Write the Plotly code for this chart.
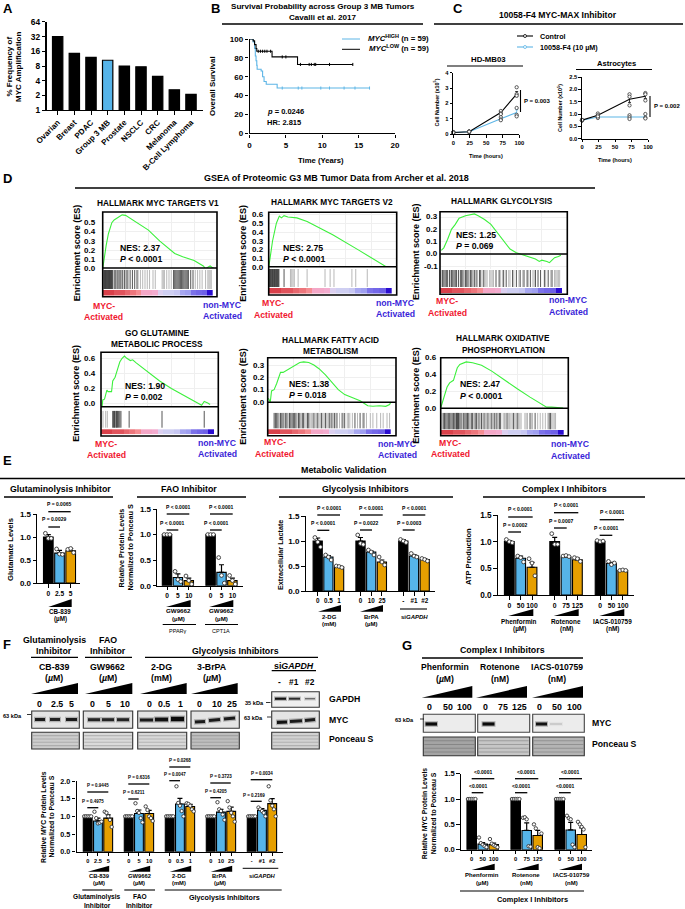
import plotly.graph_objects as go

W, H = 685, 909
FONT = "Liberation Sans"
BLUE, ORANGE, KM_BLUE = "#56B4E9", "#E69F00", "#5DB5E6"

# ---------- A
amp_categories = ["Ovarian", "Breast", "PDAC", "Group 3 MB", "Prostate", "NSCLC", "CRC", "Melanoma", "B-Cell Lymphoma"]
amp_values = [32, 14.5, 12, 10.5, 8, 7.7, 4.9, 2.6, 2.1]
amp_ticks = [1, 2, 4, 8, 16, 32, 64]

# ---------- B
km_high_t = [0, 0.5, 0.7, 0.8, 0.9, 1.0, 1.05, 1.6, 1.8, 2.0, 2.3, 3.8, 16.5]
km_high_s = [100, 97, 90, 82, 77, 72, 68, 66, 60, 55, 52, 48, 48]
km_low_t = [0, 0.5, 0.7, 0.9, 1.0, 3.1, 6.6, 14.2]
km_low_s = [100, 98, 94, 90, 87, 81, 73, 73]
km_high_cens_t = [4.5, 6.7, 7.2, 9.8, 11, 13, 14.5, 16.5]
km_high_cens_s = [48, 48, 48, 48, 48, 48, 48, 48]
km_low_cens_t = [1.2, 1.5, 1.8, 2.1, 2.4, 2.9, 4.5, 5.0, 7.0, 8.2, 8.5, 8.9, 9.1, 11, 14.2]
km_low_cens_s = [87, 87, 87, 87, 87, 87, 81, 81, 73, 73, 73, 73, 73, 73, 73]

# ---------- C
time_h = [0, 24, 72, 96]
hd_control = [0.1, 0.15, 1.4, 2.6]
hd_control_err = [0.02, 0.03, 0.07, 0.17]
hd_drug = [0.1, 0.15, 1.0, 1.4]
hd_drug_err = [0.02, 0.03, 0.07, 0.18]
hd_control_reps = [[0.1, 0.12, 0.08], [0.16, 0.13, 0.15], [1.5, 1.35, 1.3], [3.05, 2.6, 2.5]]
hd_drug_reps = [[0.1, 0.12, 0.08], [0.16, 0.13, 0.15], [1.1, 0.95, 0.9], [1.7, 1.25, 1.15]]
as_control = [0.75, 0.95, 1.6, 1.72]
as_control_err = [0.01, 0.04, 0.13, 0.09]
as_drug = [0.75, 0.88, 0.88, 0.88]
as_drug_err = [0.01, 0.03, 0.04, 0.04]
as_control_reps = [[0.75, 0.74, 0.76], [1.02, 0.95, 0.9], [1.8, 1.7, 1.35], [1.85, 1.8, 1.55]]
as_drug_reps = [[0.75, 0.74, 0.76], [0.93, 0.88, 0.84], [0.95, 0.87, 0.8], [1.0, 0.85, 0.82]]

# ---------- D
band_scores = [1.0, 1.0, 0.9, 0.9, 0.8, 0.72, 0.6, 0.3, 0.3, 0.25, -0.1, -0.2, -0.2, -0.25, -0.45, -0.5, -0.7, -0.75, -0.78, -1.0]

v1_rank = [0, 1, 3, 5, 8, 10, 15, 17, 20, 30, 35, 40, 50, 60, 63, 70, 80, 88, 90, 92, 94, 96, 98]
v1_es = [0, 0.1, 0.25, 0.38, 0.5, 0.53, 0.57, 0.585, 0.58, 0.5, 0.46, 0.42, 0.3, 0.19, 0.165, 0.13, 0.09, 0.03, 0.0, 0.015, 0.03, 0.01, 0]
v1_dark = [1, 1.5, 2, 2.5, 3, 3.5, 4, 4.5, 5, 5.5, 6, 6.5, 7, 7.5, 8, 8.5, 10, 11, 12.5, 13.5, 15, 16, 17.5, 19, 20.5, 22, 24, 26, 28, 30,
           62, 63, 64, 65, 66, 67, 68, 69, 70, 71, 72, 73, 74, 75, 77, 79]
v1_light = [31, 33, 35, 37, 39, 41, 44, 46, 52, 53, 54, 56, 58, 60, 81, 83, 85, 87, 90, 92, 93, 94, 95]

v2_rank = [0, 1, 3, 6, 8.3, 10, 12, 15, 22, 30, 50, 70, 85, 92, 93]
v2_es = [0, 0.1, 0.3, 0.5, 0.58, 0.56, 0.585, 0.57, 0.56, 0.52, 0.37, 0.2, 0.07, 0.01, 0]
v2_dark = [0.5, 1, 1.5, 2, 2.5, 3, 3.5, 4, 4.5, 5, 5.5, 6, 6.5, 7, 7.5, 8, 12]
v2_light = [17, 18, 19, 20, 23, 30, 44, 48, 51, 65, 68, 77]

gly_rank = [1, 3, 6, 9, 12, 15, 20, 25, 27, 30, 35, 40, 45, 50, 55, 60, 63, 70, 75, 78, 80, 84, 86, 88, 90, 93, 95]
gly_es = [0.03, 0.05, 0.12, 0.2, 0.24, 0.29, 0.31, 0.325, 0.325, 0.31, 0.28, 0.24, 0.17, 0.1, 0.04, 0.01, 0, -0.02, -0.04, -0.06, -0.05, -0.06, -0.07, -0.05, -0.03, -0.02, -0.01]
gly_dark = [2, 3, 4, 5, 6, 7.5, 9, 10, 11, 12, 13, 14.5, 16, 17, 18, 20, 21, 22, 24, 25, 27, 29, 31, 32, 34, 44, 47, 50, 52, 57, 60, 63, 66, 69, 71, 75, 77, 79, 82, 85, 88]
gly_light = [1, 8, 19, 23, 26, 28, 35, 36, 37, 39, 40, 41, 42, 46, 49, 54, 55, 58, 62, 65, 68, 73, 74, 83, 87, 90, 91, 92, 93, 94]

glu_rank = [1, 1.5, 3, 5, 6, 9, 10, 12, 14, 15, 16, 18, 20, 22, 25, 27, 30, 50, 60, 85.8, 88, 91, 93]
glu_es = [-0.03, 0.05, 0.06, 0.18, 0.16, 0.16, 0.3, 0.35, 0.45, 0.5, 0.55, 0.6, 0.63, 0.6, 0.57, 0.58, 0.54, 0.3, 0.2, -0.02, 0.03, 0.01, -0.01]
glu_dark = [10, 10.6, 11.5, 12, 13, 13.5, 14, 15, 16, 17, 24, 52, 88]
glu_light = [1.7, 4, 5.4]

fat_rank = [0.5, 2, 3, 5, 7, 9, 10, 12, 15, 18, 20, 22, 25, 28, 32, 36, 40, 45, 50, 55, 60, 65, 72, 75, 78, 82, 87, 92, 95, 96]
fat_es = [0.03, 0, 0.09, 0.1, 0.15, 0.21, 0.24, 0.24, 0.26, 0.28, 0.29, 0.3, 0.32, 0.325, 0.32, 0.3, 0.27, 0.22, 0.16, 0.1, 0.06, 0.04, 0.01, -0.01, -0.03, -0.035, -0.03, -0.035, -0.02, 0]
fat_dark = [5, 6, 7, 8, 10, 11, 12, 14, 15, 17, 18, 19, 20, 21, 22, 24, 25, 27, 28, 31, 32, 36, 39, 42, 45, 48, 50, 52, 54, 58, 60, 68, 72, 75]
fat_light = [9, 13, 16, 23, 26, 29, 30, 33, 34, 35, 37, 38, 40, 41, 43, 44, 46, 47, 49, 51, 53, 56, 59, 62, 63, 64, 66, 70, 74, 77, 80, 82, 85, 88, 90, 93, 95]

ox_rank = [0, 1, 3, 5, 7, 10, 11, 13, 15, 18, 20, 25, 32, 40, 50, 60, 70, 80, 83, 87, 92, 96]
ox_es = [0, 0.05, 0.13, 0.25, 0.3, 0.33, 0.38, 0.48, 0.52, 0.54, 0.55, 0.54, 0.51, 0.44, 0.33, 0.23, 0.13, 0.03, 0.01, 0.01, 0, 0]
ox_dark = [2, 3, 4, 5, 6, 7, 8, 9, 10, 11, 12, 12.5, 13, 13.5, 14, 15, 16, 18, 19, 20, 21, 22, 24, 25, 27, 28, 30, 32, 34, 37, 40, 42, 44, 46, 47, 52, 57, 60, 70, 74, 85, 86]
ox_light = [1, 17, 23, 26, 29, 31, 33, 35, 36, 38, 39, 41, 43, 45, 49, 50, 51, 53, 54, 55, 56, 58, 59, 61, 62, 63, 66, 67, 68, 71, 72, 76, 78, 80, 82, 84, 87, 88, 89, 90]

# ---------- E
glut_means = [[1.0, 0.65, 0.70]]
glut_errs = [[0.05, 0.06, 0.05]]
glut_pts = [[[1.08, 0.97, 0.97], [0.74, 0.63, 0.62], [0.73, 0.75, 0.66]]]
glut_labels = ["0", "2.5", "5"]

fao_means = [[1.0, 0.16, 0.1], [1.0, 0.26, 0.1]]
fao_errs = [[0, 0.07, 0.05], [0, 0.15, 0.05]]
fao_pts = [[[1, 1, 1], [0.28, 0.12, 0.08], [0.19, 0.1, 0.03]], [[1, 1, 1], [0.55, 0.2, 0.05], [0.2, 0.1, 0.03]]]
fao_labels = ["0", "5", "10", "0", "5", "10"]

lact_means = [[1.0, 0.68, 0.48], [1.0, 0.78, 0.58], [1.0, 0.7, 0.63]]
lact_errs = [[0.06, 0.03, 0.02], [0.07, 0.02, 0.04], [0.03, 0.03, 0.02]]
lact_pts = [[[1.07, 0.98, 0.88], [0.72, 0.68, 0.62], [0.5, 0.49, 0.47]],
            [[1.12, 0.95, 0.93], [0.82, 0.78, 0.72], [0.68, 0.58, 0.52]],
            [[1.03, 1.0, 0.97], [0.75, 0.7, 0.68], [0.65, 0.63, 0.6]]]
lact_labels = ["0", "0.5", "1", "0", "10", "25", "-", "#1", "#2"]

atp_means = [[1.0, 0.69, 0.52], [1.0, 0.71, 0.66], [1.0, 0.59, 0.46]]
atp_errs = [[0.02, 0.04, 0.09], [0.08, 0.01, 0.03], [0.02, 0.02, 0.01]]
atp_pts = [[[1.04, 1.0, 0.98], [0.73, 0.7, 0.62], [0.68, 0.6, 0.36]],
           [[1.15, 0.95, 0.95], [0.73, 0.74, 0.72], [0.7, 0.68, 0.63]],
           [[1.02, 1.0, 1.01], [0.63, 0.57, 0.6], [0.46, 0.47, 0.46]]]
atp_labels = ["0", "50", "100", "0", "75", "125", "0", "50", "100"]

# ---------- F
fmyc_means = [[1, 0.87, 0.95], [1, 1.08, 1.08], [1, 1.35, 1.28], [1, 1.12, 1.14], [1, 1.17, 1.36]]
fmyc_errs = [[0, 0.08, 0.09], [0, 0.1, 0.09], [0, 0.16, 0.06], [0, 0.08, 0.12], [0, 0.05, 0.14]]
fmyc_pts = [[[1] * 5, [1.13, 0.95, 0.8, 0.82, 0.85], [1.13, 1.1, 1.0, 0.9, 0.7]],
            [[1] * 5, [1.37, 1.15, 1.1, 0.95, 0.83], [1.28, 1.18, 1.0, 0.95, 0.87]],
            [[1] * 5, [1.85, 1.38, 1.3, 1.15, 1.0], [1.37, 1.35, 1.3, 1.2, 1.14]],
            [[1] * 5, [1.4, 1.2, 1.15, 1.05, 0.9], [1.43, 1.25, 1.1, 1.0, 0.85]],
            [[1] * 5, [1.25, 1.2, 1.15, 1.1, 1.0], [1.85, 1.45, 1.3, 1.2, 1.0]]]
fmyc_labels = ["0", "2.5", "5", "0", "5", "10", "0", "0.5", "1", "0", "10", "25", "-", "#1", "#2"]

# ---------- G
gmyc_means = [[1, 0.11, 0.1], [1, 0.38, 0.28], [1, 0.39, 0.3]]
gmyc_errs = [[0, 0.03, 0.03], [0, 0.15, 0.1], [0, 0.15, 0.13]]
gmyc_pts = [[[1] * 5, [0.24, 0.13, 0.1, 0.07, 0.05], [0.21, 0.12, 0.09, 0.07, 0.05]],
            [[1] * 5, [0.63, 0.64, 0.6, 0.07, 0.06], [0.5, 0.42, 0.05, 0.03, 0.32]],
            [[1] * 5, [0.67, 0.62, 0.6, 0.1, 0.05], [0.55, 0.5, 0.45, 0.4, 0.05]]]
gmyc_labels = ["0", "50", "100", "0", "75", "125", "0", "50", "100"]

# ---------- helpers
fig = go.Figure()
layout = {}
annots, shapes = [], []
nax = 0


def X(x):
    return x / W


def Y(y):
    return 1 - y / H


def T(x, y, s, size=7, bold=True, anchor="center", color="black", angle=0):
    annots.append(dict(x=X(x), y=Y(y), xref="paper", yref="paper", text=s, showarrow=False, xanchor=anchor,
                       yanchor="middle", textangle=angle, borderpad=0,
                       font=dict(size=size, color=color, family=FONT, weight=700 if bold else 400)))


def L(x0, y0, x1, y1, w=1.2, color="black"):
    shapes.append(dict(type="line", xref="paper", yref="paper", x0=X(x0), y0=Y(y0), x1=X(x1), y1=Y(y1),
                       line=dict(color=color, width=w)))


def R(x0, y0, x1, y1, fill="rgba(0,0,0,0)", lw=1.2, lc="black"):
    shapes.append(dict(type="rect", xref="paper", yref="paper", x0=X(x0), y0=Y(y0), x1=X(x1), y1=Y(y1),
                       fillcolor=fill, line=dict(color=lc, width=lw)))


def TRI(x0, y0, x1, y1):
    path = f"M {X(x0)} {Y(y1)} L {X(x1)} {Y(y1)} L {X(x1)} {Y(y0)} Z"
    shapes.append(dict(type="path", xref="paper", yref="paper", path=path, fillcolor="black", line=dict(width=0)))


def BRK(text, cx, ty, x0, x1, ly, size=5.0):
    T(cx, ty, text, size=size)
    L(x0, ly, x1, ly, w=1.3)


def AX(x0, x1, ytop, ybot, xr, yr, xo=None, yo=None):
    global nax
    nax += 1
    k = "" if nax == 1 else str(nax)
    base = dict(showgrid=False, zeroline=False, showline=False, ticks="", showticklabels=False, fixedrange=True)
    xa = dict(base, domain=[X(x0), X(x1)], range=xr, anchor=f"y{k}")
    ya = dict(base, domain=[Y(ybot), Y(ytop)], range=yr, anchor=f"x{k}")
    xa.update(xo or {})
    ya.update(yo or {})
    layout[f"xaxis{k}"] = xa
    layout[f"yaxis{k}"] = ya
    return f"x{k}", f"y{k}"


def axstyle(size=7, lw=1.4, tl=3.5, tw=1.2):
    return dict(showline=True, linecolor="black", linewidth=lw, ticks="outside", ticklen=tl, tickwidth=tw,
                tickcolor="black", showticklabels=True,
                tickfont=dict(family=FONT, size=size, color="black", weight=700))


SWARM = {3: [-0.26, 0.0, 0.26], 5: [-0.34, -0.17, 0.0, 0.17, 0.34]}


def bar_panel(ax0, ax1, top, bot, ymax, yticks, first, unit, means, errs, pts, labels, tsize=7, xsize=6.5, msize=3.8):
    xo = axstyle(xsize)
    yo = axstyle(tsize)
    pos = [g * 4 + b for g in range(len(means)) for b in range(3)]
    xo.update(tickvals=pos, ticktext=labels, tickangle=0)
    yo.update(tickvals=yticks, tickformat=".1f")
    xa, ya = AX(ax0, ax1, top, bot, [(ax0 - first) / unit, (ax1 - first) / unit], [0, ymax], xo, yo)
    colors = ["black", BLUE, ORANGE]
    for b in range(3):
        xs = [g * 4 + b for g in range(len(means))]
        fig.add_trace(go.Bar(x=xs, y=[m[b] for m in means], width=0.86, xaxis=xa, yaxis=ya,
                             marker=dict(color=colors[b], line=dict(color="black", width=1.1)), cliponaxis=False,
                             error_y=dict(type="data", array=[e[b] for e in errs], symmetric=False, color="black",
                                          thickness=1.2, width=2.5), showlegend=False))
    px, py = [], []
    for g, grp in enumerate(pts):
        for b, vals in enumerate(grp):
            off = SWARM[len(vals)]
            for i, v in enumerate(vals):
                px.append(g * 4 + b + off[i])
                py.append(v)
    fig.add_trace(go.Scatter(x=px, y=py, mode="markers", xaxis=xa, yaxis=ya, cliponaxis=False, showlegend=False,
                             marker=dict(size=msize, color="white", line=dict(color="#333", width=0.9))))
    fig.update_layout(barmode="overlay")


def gsea(name, bx0, bx1, top, split, lowpx, bot, cal, ticks, rank, es, dark, light, by0, by1, ky0, ky1,
         title, tcx, tys, tsize, ylx, nes, pv, tx, ty1, ty2, red, blue, tickx):
    (p0, v0), (p1, v1) = cal
    scale = (v1 - v0) / (p1 - p0)
    yr = [v0 + (lowpx - p0) * scale, v0 + (top - p0) * scale]
    xo = dict(range=[0, 100], showgrid=True, gridcolor="#efefef", gridwidth=0.6, tickvals=[20, 40, 60, 80])
    yo = dict(showgrid=True, gridcolor="#efefef", gridwidth=0.6, tickvals=ticks, tickformat=".1f")
    xa, ya = AX(bx0, bx1, top, lowpx, [0, 100], yr, xo, yo)
    fig.add_trace(go.Scatter(x=rank, y=es, mode="lines", xaxis=xa, yaxis=ya, name=name, showlegend=False,
                             line=dict(color="#3CF03C", width=1.1)))
    for t in ticks:
        T(tickx, p0 + (t - v0) / scale, f"{t:.1f}", size=8, anchor="right")
    xb, yb = AX(bx0, bx1, by0, ky1, [0, 100], [0, 1])
    span = ky1 - by0
    f0 = (ky1 - by1) / span
    for hits, col in ((light, "#a6a6a6"), (dark, "#2b2b2b")):
        xs, ys = [], []
        for h in hits:
            xs += [h, h, None]
            ys += [f0, 1, None]
        fig.add_trace(go.Scatter(x=xs, y=ys, mode="lines", xaxis=xb, yaxis=yb, showlegend=False,
                                 line=dict(color=col, width=0.8)))
    kh = (ky1 - ky0) / span
    fig.add_trace(go.Heatmap(z=[band_scores], x0=2.4, dx=4.8, y0=kh / 2, dy=kh, xaxis=xb, yaxis=yb, zmin=-1, zmax=1,
                             showscale=False, colorscale=[[0, "#2a0cd0"], [0.1, "#6a5ce6"], [0.25, "#9f9ff0"],
                                                          [0.4, "#cfcff2"], [0.5, "#e8d0ee"], [0.6, "#f3b0d8"],
                                                          [0.8, "#f58d92"], [1, "#d9404a"]]))
    R(bx0, top, bx1, bot, lw=1.6)
    L(bx0, split, bx1, split, w=1.6)
    for s, y in zip(title, tys):
        T(tcx, y, s, size=tsize)
    T(ylx, (top + bot) / 2 - 1, "Enrichment score (ES)", size=9, angle=-90)
    T(tx, ty1, nes, size=8.7, anchor="left")
    T(tx, ty2, pv, size=8.7, anchor="left")
    RED, NAVY = "#F0182F", "#3A1FD8"
    T(red[0], red[1], "MYC-", size=8.7, color=RED)
    T(red[0], red[2], "Activated", size=8.7, color=RED)
    T(blue[0], blue[1], "non-MYC", size=8.7, color=NAVY)
    T(blue[0], blue[2], "Activated", size=8.7, color=NAVY)


def band(x0, x1, y0, y1, h, dark):
    L(x0 - 1, y0, x1 + 1, y1, w=h + 2.5, color=f"rgba(0,0,0,{0.25 * dark:.2f})")
    L(x0, y0, x1, y1, w=h, color=f"rgba(10,10,10,{dark:.2f})")


def ponceau(x0, y0, x1, y1, fill, stripe):
    R(x0, y0, x1, y1, fill=fill, lw=1.1, lc="#333")
    n = 4
    for i in range(1, n + 1):
        y = y0 + (y1 - y0) * i / (n + 1)
        L(x0 + 1, y, x1 - 1, y, w=1.1, color=stripe)


# ---------- Panel letters
for s, x, y in [("A", 2, 8.5), ("B", 210, 8.5), ("C", 452, 8.5), ("D", 2, 179), ("E", 2, 461), ("F", 2, 644), ("G", 401, 645)]:
    T(x, y, s, size=13, anchor="left")

# ---------- A
xo = axstyle(8)
xo.update(tickvals=list(range(9)), ticktext=amp_categories, tickangle=-45)
yo = axstyle(8.4, lw=1.5)
yo.update(type="log", tickvals=amp_ticks, ticktext=[str(t) for t in amp_ticks])
xa, ya = AX(47, 203, 22, 110, [-0.64, 8.72], [0, 1.806], xo, yo)
fig.add_trace(go.Bar(x=list(range(9)), y=amp_values, xaxis=xa, yaxis=ya, width=0.62, showlegend=False,
                     marker=dict(color=["black", "black", "black", BLUE] + ["black"] * 5, line=dict(color="black", width=1.2))))
T(9.5, 67, "% Frequency of", size=8, angle=-90)
T(19, 67, "MYC Amplification", size=8, angle=-90)

# ---------- B
T(322.5, 6.5, "Survival Probability across Group 3 MB Tumors", size=8.1)
T(322.5, 17, "Cavalli et al. 2017", size=8.1)
L(222, 24, 423, 24, w=1.4)
xo = axstyle(8)
xo.update(tickvals=[0, 5, 10, 15, 20])
yo = axstyle(8)
yo.update(tickvals=[0, 20, 40, 60, 80, 100])
xa, ya = AX(249.5, 395, 39, 133.3, [0, 20], [0, 100], xo, yo)
fig.add_trace(go.Scatter(x=km_high_t, y=km_high_s, mode="lines", line=dict(color=KM_BLUE, width=1.1, shape="hv"),
                         xaxis=xa, yaxis=ya, name="MYC HIGH", showlegend=False, cliponaxis=False))
fig.add_trace(go.Scatter(x=km_low_t, y=km_low_s, mode="lines", line=dict(color="black", width=1.1, shape="hv"),
                         xaxis=xa, yaxis=ya, name="MYC LOW", showlegend=False, cliponaxis=False))
for t, s, c in ((km_high_cens_t, km_high_cens_s, KM_BLUE), (km_low_cens_t, km_low_cens_s, "black")):
    fig.add_trace(go.Scatter(x=t, y=s, mode="markers", xaxis=xa, yaxis=ya, showlegend=False, cliponaxis=False,
                             marker=dict(symbol="line-ns", size=2.2, line=dict(color=c, width=1))))
T(213, 86, "Overall Survival", size=7.9, angle=-90)
T(321, 161, "Time (Years)", size=7.7)
T(266, 111, "<i>p</i> = 0.0246", size=7.5, anchor="left")
T(266, 122, "HR: 2.815", size=7.5, anchor="left")
L(342, 39, 360, 39, w=1, color=KM_BLUE)
L(342, 49.3, 360, 49.3, w=1, color="black")
T(367, 38, "<i>MYC</i><sup>HIGH</sup> (n = 59)", size=7.8, anchor="left")
T(368, 48.5, "<i>MYC</i><sup>LOW</sup> (n = 59)", size=7.8, anchor="left")

# ---------- C
T(558, 15, "10058-F4 MYC-MAX Inhibitor", size=8.6)
L(434, 24, 683, 24, w=1.4)
L(517, 36, 533, 36, w=1.1)
L(517, 47, 533, 47, w=1.1, color=KM_BLUE)
for y, c in ((36, "black"), (47, KM_BLUE)):
    shapes.append(dict(type="circle", xref="paper", yref="paper", x0=X(523.5), x1=X(526.5), y0=Y(y - 1.5), y1=Y(y + 1.5),
                       fillcolor="white", line=dict(color=c, width=0.8)))
T(539, 36, "Control", size=7.2, anchor="left")
T(539, 47, "10058-F4 (10 µM)", size=7.2, anchor="left")


def growth(ax0, ax1, top, bot, ymax, yt, fmt, ctrl, ce, cr, drug, de, dr):
    xo = axstyle(5.8, lw=1.1, tl=2.5, tw=0.9)
    xo.update(tickvals=[0, 25, 50, 75, 100])
    yo = axstyle(5.8, lw=1.1, tl=2.5, tw=0.9)
    yo.update(tickvals=yt, tickformat=fmt)
    xa, ya = AX(ax0, ax1, top, bot, [0, 100], [0, ymax], xo, yo)
    for name, m, e, c in (("10058-F4 (10 µM)", drug, de, KM_BLUE), ("Control", ctrl, ce, "black")):
        fig.add_trace(go.Scatter(x=time_h, y=m, mode="lines", name=name, xaxis=xa, yaxis=ya, showlegend=False, cliponaxis=False,
                                 line=dict(color=c, width=1.1),
                                 error_y=dict(type="data", array=e, color=c, thickness=0.8, width=1.5)))
    for reps, c in ((dr, KM_BLUE), (cr, "black")):
        xs = [t for t, r in zip(time_h, reps) for _ in r]
        ys = [v for r in reps for v in r]
        fig.add_trace(go.Scatter(x=xs, y=ys, mode="markers", xaxis=xa, yaxis=ya, showlegend=False, cliponaxis=False,
                                 marker=dict(size=3.3, color="white", line=dict(color="#333", width=0.8))))


growth(453.3, 519.3, 72.7, 134, 4, [0, 1, 2, 3, 4], "d", hd_control, hd_control_err, hd_control_reps, hd_drug, hd_drug_err, hd_drug_reps)
growth(582, 648, 77, 138.7, 2.5, [0, 0.5, 1, 1.5, 2, 2.5], ".1f", as_control, as_control_err, as_control_reps, as_drug, as_drug_err, as_drug_reps)
T(488, 59, "HD-MB03", size=7.8)
L(447, 66, 523, 66, w=1.2)
T(616, 63, "Astrocytes", size=7.6)
L(576, 69.5, 652, 69.5, w=1.2)
T(436.5, 103, "Cell Number (x10<sup>5</sup>)", size=5.4, angle=-90)
T(560, 108, "Cell Number (x10<sup>5</sup>)", size=5.4, angle=-90)
T(486, 156, "Time (hours)", size=5.6)
T(615, 160, "Time (hours)", size=5.6)
L(520.5, 90, 520.5, 112, w=1.1)
L(650, 96, 650, 117, w=1.1)
T(523, 101, "P = 0.003", size=6, anchor="left")
T(653, 105.5, "P = 0.002", size=6, anchor="left")

# ---------- D
T(336, 178, "GSEA of Proteomic G3 MB Tumor Data from Archer et al. 2018", size=9)
L(75, 188, 595, 188, w=1.4)
gsea("MYC targets V1", 102.7, 217, 212, 268, 268, 296.7, ((268.7, 0.0), (222.7, 0.5)), [0, 0.1, 0.2, 0.3, 0.4, 0.5], v1_rank, v1_es, v1_dark, v1_light,
     270, 289, 290, 295.5, ["HALLMARK MYC TARGETS V1"], 158, [203], 8.3, 77, "NES: 2.37", "<i>P</i> &lt; 0.0001", 119, 248, 259,
     (103.7, 305.7, 317), (222.7, 304.7, 316), 97)
gsea("MYC targets V2", 268.7, 396.7, 212.3, 266.7, 266.7, 295, ((267.7, 0.0), (214.3, 0.6)), [0, 0.1, 0.2, 0.3, 0.4, 0.5, 0.6], v2_rank, v2_es, v2_dark, v2_light,
     269, 287, 288, 293.5, ["HALLMARK MYC TARGETS V2"], 331.7, [202.3], 8.3, 243, "NES: 2.75", "<i>P</i> &lt; 0.0001", 282, 248, 259,
     (273.3, 303.3, 315), (395.7, 303, 314), 265)
gsea("Glycolysis", 440, 567.3, 211.7, 254, 269, 294.3, ((254, 0.0), (217, 0.3)), [-0.1, 0, 0.1, 0.2, 0.3], gly_rank, gly_es, gly_dark, gly_light,
     270, 287, 288, 293, ["HALLMARK GLYCOLYSIS"], 501.7, [200.7], 8.3, 416, "NES: 1.25", "<i>P</i> = 0.069", 455, 235, 246,
     (447.3, 301.3, 312.7), (568.7, 300.3, 311.7), 439)
gsea("Glutamine", 101, 218.3, 352.3, 406.7, 406.7, 436, ((403.7, 0.0), (358.3, 0.6)), [0, 0.2, 0.4, 0.6], glu_rank, glu_es, glu_dark, glu_light,
     410.7, 427.7, 429.3, 434.3, ["GO GLUTAMINE", "METABOLIC PROCESS"], 157, [333.3, 344.3], 8.3, 76.5, "NES: 1.90", "<i>P</i> = 0.002", 124, 385.7, 397,
     (106, 444, 455.3), (217.7, 442.7, 454), 97)
gsea("Fatty acid", 267.7, 396, 357.7, 402.3, 412, 435.7, ((402, 0.0), (365, 0.3)), [0, 0.1, 0.2, 0.3], fat_rank, fat_es, fat_dark, fat_light,
     412.7, 428.3, 429.3, 434, ["HALLMARK FATTY ACID", "METABOLISM"], 330, [340, 351], 8.3, 243, "NES: 1.38", "<i>P</i> = 0.018", 287.7, 384.3, 394.7,
     (274.7, 442.3, 453.7), (397.7, 444, 455.3), 266)
gsea("Oxphos", 440.7, 568.3, 357.7, 408.3, 408.3, 435.7, ((408, 0.0), (357.7, 0.6)), [0, 0.2, 0.4, 0.6], ox_rank, ox_es, ox_dark, ox_light,
     412.7, 429.3, 430, 434.7, ["HALLMARK OXIDATIVE", "PHOSPHORYLATION"], 503.3, [338.3, 349.7], 8.3, 416, "NES: 2.47", "<i>P</i> &lt; 0.0001", 459.3, 384.3, 396,
     (450.3, 442.7, 454.3), (570, 444.3, 455.7), 438)

# ---------- E
T(343, 470, "Metabolic Validation", size=8.9)
L(0, 478.5, 685, 478.5, w=1.4)
for s, cx, x0, x1 in [("Glutaminolysis Inhibitor", 60, 4, 113), ("FAO Inhibitor", 189, 137, 246),
                      ("Glycolysis Inhibitors", 366, 279, 453), ("Complex I Inhibitors", 564, 483, 645)]:
    T(cx, 489.5, s, size=8.8)
    L(x0, 497, x1, 497, w=1.3)

yt = [0, 0.5, 1.0, 1.5]
bar_panel(37.3, 80, 514, 583, 1.5, yt, 48.3, 11.2, glut_means, glut_errs, glut_pts, glut_labels, tsize=8, xsize=6.6)
T(10, 550, "Glutamate Levels", size=7.6, angle=-90)
BRK("P = 0.0029", 54, 519, 48.3, 60, 527)
BRK("P = 0.0065", 59, 504, 48.3, 70.7, 511.7)
TRI(48.3, 599, 71.7, 607)
T(60, 611, "CB-839", size=6.3)
T(60, 618.5, "(µM)", size=6.3)

bar_panel(157.3, 242.7, 509, 585.7, 1.5, yt, 167, 10.9, fao_means, fao_errs, fao_pts, fao_labels, tsize=8, xsize=6.6)
T(120.5, 548, "Relative Protein Levels", size=7.2, angle=-90)
T(129.5, 548, "Normalized to Ponceau S", size=7.2, angle=-90)
BRK("P &lt; 0.0001", 178, 506.7, 166.7, 189.3, 514)
BRK("P &lt; 0.0001", 172, 522.7, 166.7, 178.3, 530)
BRK("P &lt; 0.0001", 221, 506.7, 210, 232.7, 514)
BRK("P &lt; 0.0001", 216, 522.7, 210, 221.7, 530)
TRI(166, 600, 190.7, 607)
TRI(209.3, 600, 233.3, 607)
for cx in (178.5, 221.5):
    T(cx, 610, "GW9662", size=6.2)
    T(cx, 618, "(µM)", size=6.2)
L(162.7, 624.5, 196, 624.5, w=1.2)
L(205, 624.5, 238, 624.5, w=1.2)
T(178, 631, "PPARγ", size=5.5, bold=False)
T(221, 631, "CPT1A", size=5.5, bold=False)

bar_panel(305.7, 435, 516, 591, 1.5, yt, 317.7, 10.7, lact_means, lact_errs, lact_pts, lact_labels, tsize=8, xsize=6.3)
T(280, 555, "Extracellular Lactate", size=7.2, angle=-90)
BRK("P &lt; 0.0001", 328.7, 507.7, 317.3, 340, 515)
BRK("P &lt; 0.0001", 323, 523, 317.3, 329.3, 530.3)
BRK("P &lt; 0.0001", 371, 507.7, 360, 382.7, 515)
BRK("P = 0.0022", 366, 523, 360, 372, 530)
BRK("P &lt; 0.0001", 414, 507.7, 402.7, 425.3, 515)
BRK("P = 0.0003", 408.7, 523, 402.7, 414.7, 530)
TRI(318, 605, 341, 611.7)
TRI(360, 605, 383, 611.7)
L(400, 609, 427, 609, w=1.1)
for s, u, cx in (("2-DG", "(mM)", 329), ("BrPA", "(µM)", 371)):
    T(cx, 616.7, s, size=6)
    T(cx, 624, u, size=6)
T(414, 616.7, "si<i>GAPDH</i>", size=6)

bar_panel(498, 634, 515, 595, 1.5, yt, 509.3, 11.35, atp_means, atp_errs, atp_pts, atp_labels, tsize=8.2, xsize=6.8)
T(468, 557, "ATP Production", size=7.6, angle=-90)
BRK("P &lt; 0.0001", 520, 509, 508.3, 532.7, 517)
BRK("P = 0.0002", 515, 525, 508.3, 521, 532)
BRK("P &lt; 0.0001", 566, 505, 554, 578.3, 512.7)
BRK("P = 0.0007", 560.7, 521, 554, 566.7, 528)
BRK("P &lt; 0.0001", 611.7, 512.3, 599.7, 624, 519.7)
BRK("P &lt; 0.0001", 605.7, 527.7, 599.7, 612.3, 535.3)
for x0, s, u, cx in ((508.3, "Phenformin", "(µM)", 519), (553.7, "Rotenone", "(nM)", 566), (599.3, "IACS-010759", "(nM)", 612)):
    TRI(x0, 609, x0 + 25, 616)
    T(cx, 621.5, s, size=6.4)
    T(cx, 629, u, size=6.4)

# ---------- F
T(54, 640, "Glutaminolysis", size=8.8)
T(54, 651, "Inhibitor", size=8.8)
L(31, 657.3, 78, 657.3, w=1.3)
T(108, 640, "FAO", size=8.8)
T(108, 651, "Inhibitor", size=8.8)
L(85, 657.3, 132, 657.3, w=1.3)
T(235, 651, "Glycolysis Inhibitors", size=8.8)
L(145, 657.3, 318, 657.3, w=1.3)
for s, u, cx, x0, x1 in [("CB-839", "(<i>µ</i>M)", 54, 31, 78), ("GW9662", "(<i>µ</i>M)", 107.7, 85, 132.3),
                         ("2-DG", "(mM)", 161.7, 140, 186.7), ("3-BrPA", "(<i>µ</i>M)", 212, 191, 237.7)]:
    T(cx, 667, s, size=8.8)
    T(cx, 678, u, size=8.8)
    TRI(x0, 683, x1, 694)
T(294, 665.7, "si<i>GAPDH</i>", size=8.8)
L(271.7, 670.7, 316, 670.7, w=1.2)
for s, x in (("-", 279), ("#1", 294), ("#2", 310)):
    T(x, 681.7, s, size=8.4)
for s, x in [("0", 39), ("2.5", 56.7), ("5", 71), ("0", 92.7), ("5", 108.7), ("10", 125.3),
             ("0", 149), ("0.5", 164), ("1", 180), ("0", 200), ("10", 216.7), ("25", 232.3)]:
    T(x, 703.7, s, size=8.8)

f_blots = [(31.7, 79.3), (83.3, 132.7), (137.7, 186.7), (191, 239.3), (271.7, 319.3)]
f_ponceau_fill = ["#cdcdcd", "#dadada", "#d8d8d8", "#bebebe", "#d2d2d2"]
for (x0, x1), pf in zip(f_blots, f_ponceau_fill):
    R(x0, 711, x1, 728.3, fill="#e4e4e4", lw=1.1, lc="#333")
    ponceau(x0, 732.3, x1, 749, pf, "rgba(100,100,100,0.3)")
for (x0, x1, y0, y1, h, d) in [(35, 45, 719.5, 719.5, 3, 0.9), (50, 60, 719.5, 719.5, 3, 0.85), (66, 77, 719.5, 719.5, 3, 0.9),
                               (88, 100, 719.7, 719.7, 3, 0.85), (102, 114, 719.7, 719.7, 3, 0.85), (117, 129, 719.7, 719.7, 3, 0.85),
                               (140, 153, 720, 720, 3, 0.9), (155, 168, 719.5, 719.5, 3.8, 0.95), (171, 184, 719, 719, 4.5, 1.0),
                               (195, 205, 722, 721.5, 3, 0.9), (209, 220, 720.5, 719.5, 3, 0.9), (224, 235, 719, 718, 3, 0.9),
                               (277, 287, 722.3, 722, 3.2, 0.95), (290, 302, 721.5, 720.7, 3, 0.9), (305, 315, 720.5, 719.5, 3, 0.9)]:
    band(x0, x1, y0, y1, h, d)
R(271.7, 691.7, 319.3, 707.3, fill="#efefef", lw=1.1, lc="#333")
for x0, x1, h, d in [(275, 286, 2.2, 0.95), (289, 300, 2, 0.8), (305, 315, 1.4, 0.5)]:
    band(x0, x1, 698.7, 698.7, h, d)
T(327.7, 699, "GAPDH", size=8.7, anchor="left")
T(327.7, 719.7, "MYC", size=8.7, anchor="left")
T(327.7, 739, "Ponceau S", size=8.7, anchor="left")
T(265, 702.7, "35 kDa", size=5.6, anchor="right")
L(266, 702.5, 270.5, 702.5, w=0.8)
T(23, 715.7, "63 kDa", size=5.6, anchor="right")
L(27, 714.5, 31, 714.5, w=0.8)
T(264, 718.3, "63 kDa", size=5.6, anchor="right")
L(267, 717, 271, 717, w=0.8)

bar_panel(76.5, 282.7, 781, 851.7, 2.0, [0, 0.5, 1.0, 1.5, 2.0], 87.7, 10.25, fmyc_means, fmyc_errs, fmyc_pts, fmyc_labels, tsize=7.2, xsize=5.6, msize=3.4)
T(43.3, 816.7, "Relative MYC Protein Levels", size=6.8, angle=-90)
T(51.7, 816.7, "Normalized to Ponceau S", size=6.8, angle=-90)
BRK("P = 0.4975", 93.3, 801.7, 87.3, 98.3, 807.7, size=4.5)
BRK("P = 0.9445", 98.3, 785.3, 87.3, 108.3, 792, size=4.5)
BRK("P = 0.6211", 134.3, 792.3, 128.3, 138.7, 799, size=4.5)
BRK("P = 0.6316", 139, 777.3, 128.3, 149.3, 784, size=4.5)
BRK("P = 0.0047", 174.7, 774.7, 169.3, 180, 780.7, size=4.5)
BRK("P = 0.0268", 180, 760.7, 169.3, 190.3, 767, size=4.5)
BRK("P = 0.4205", 215.7, 791, 210.3, 221, 797.7, size=4.5)
BRK("P = 0.3723", 220.7, 776.7, 210.3, 230.7, 783, size=4.5)
BRK("P = 0.2169", 254.3, 795, 250.7, 261.7, 801.3, size=4.5)
BRK("P = 0.0034", 262, 773, 250.7, 272.3, 779.7, size=4.5)
for x0, s, u, cx in ((87.7, "CB-839", "(µM)", 99.3), (128.7, "GW9662", "(µM)", 139), (169.7, "2-DG", "(mM)", 179), (210.7, "BrPA", "(µM)", 219.7)):
    TRI(x0, 865.7, x0 + 21.5, 871.7)
    T(cx, 875.7, s, size=5.8)
    T(cx, 882.7, u, size=5.8)
L(242.7, 868.3, 278.3, 868.3, w=1)
T(262, 875.7, "si<i>GAPDH</i>", size=5.8)
L(82.3, 890, 112.3, 890, w=1.1)
L(124.3, 890, 155, 890, w=1.1)
L(164.7, 890, 281.7, 890, w=1.1)
T(97, 896.5, "Glutaminolysis", size=6.6)
T(97, 905, "Inhibitor", size=6.6)
T(139.7, 896.5, "FAO", size=6.6)
T(139.7, 905, "Inhibitor", size=6.6)
T(224, 897.5, "Glycolysis Inhibitors", size=7.2)

# ---------- G
T(502.7, 650, "Complex I Inhibitors", size=8.8)
L(422, 658, 583, 658, w=1.3)
for s, u, cx, x0, x1 in [("Phenformin", "(<i>µ</i>M)", 445.3, 421.7, 472.3), ("Rotenone", "(nM)", 500, 476, 527), ("IACS-010759", "(nM)", 557.3, 532, 583)]:
    T(cx, 667.3, s, size=8.6)
    T(cx, 679, u, size=8.6)
    TRI(x0, 686, x1, 697.7)
for s, x in [("0", 429.7), ("50", 447.7), ("100", 464.3), ("0", 485), ("75", 502.7), ("125", 519.3), ("0", 539.3), ("50", 557.3), ("100", 574)]:
    T(x, 707.3, s, size=8.8)
g_blots = [(423.3, 475.3), (477.7, 529.7), (532.7, 584.3)]
g_ponceau_fill = ["#a4a4a4", "#c6c6c6", "#b4b4b4"]
for (x0, x1), pf in zip(g_blots, g_ponceau_fill):
    R(x0, 714.3, x1, 732.3, fill="#ececec", lw=1.1, lc="#444")
    ponceau(x0, 737, x1, 755.7, pf, "rgba(80,80,80,0.35)")
for x0, x1, h, d in [(425.5, 437, 3.2, 1.0), (482.5, 494.5, 3.2, 1.0), (536, 547, 3, 0.95), (550, 562, 1.8, 0.12)]:
    band(x0, x1, 724, 724, h, d)
T(590.7, 723.3, "MYC", size=8.7, anchor="left")
T(590.7, 744.3, "Ponceau S", size=8.7, anchor="left")
T(415, 719.7, "63 kDa", size=5.6, anchor="right")
L(420, 719, 424, 719, w=0.8)

bar_panel(461, 591.7, 773.7, 849.7, 1.5, yt, 471.7, 11.0, gmyc_means, gmyc_errs, gmyc_pts, gmyc_labels, tsize=7.6, xsize=5.8, msize=3.4)
T(424.3, 813, "Relative MYC Protein Levels", size=6.8, angle=-90)
T(433.3, 813, "Normalized to Ponceau S", size=6.8, angle=-90)
for cx1, x0, x1, cx2, xm in ((482.7, 471.7, 494.3, 477.7, 483.3), (526.3, 515, 538.3, 521, 527.3), (570, 559, 582, 565, 570.7)):
    BRK("&lt;0.0001", cx1, 772, x0, x1, 778.7, size=5)
    BRK("&lt;0.0001", cx2, 786, x0, xm, 792.7, size=5)
for x0, s, u, cx in ((471.7, "Phenformin", "(µM)", 482), (515.7, "Rotenone", "(nM)", 526.3), (559, "IACS-010759", "(nM)", 571)):
    TRI(x0, 863.7, x0 + 23, 870)
    T(cx, 875.3, s, size=6)
    T(cx, 882.7, u, size=6)
L(460, 891, 584, 891, w=1.2)
T(532, 899, "Complex I Inhibitors", size=7.4)

layout.update(width=W, height=H, margin=dict(l=0, r=0, t=0, b=0, pad=0, autoexpand=False), paper_bgcolor="white", plot_bgcolor="white",
              showlegend=False, annotations=annots, shapes=shapes, font=dict(family=FONT, color="black"))
fig.update_layout(**layout)
fig.write_html("out.html", config={"displayModeBar": False},
               post_script="document.body.style.margin='0';document.documentElement.style.overflow='hidden';")
